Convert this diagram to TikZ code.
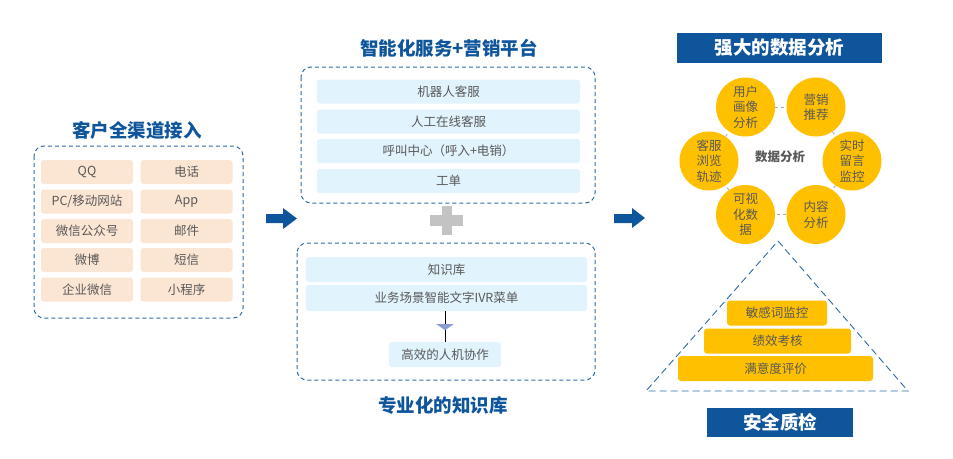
\documentclass[tikz,border=0pt]{standalone}
\usepackage{fontspec}
\setmainfont{Noto Sans CJK SC}
\usetikzlibrary{decorations.markings,arrows.meta}

\definecolor{titleblue}{HTML}{0F559C}
\definecolor{dashblue}{HTML}{2E6CA8}
\definecolor{peach}{HTML}{FBE5D3}
\definecolor{paleblue}{HTML}{E1F3FD}
\definecolor{gold}{HTML}{FFC000}
\definecolor{txtgray}{HTML}{595959}
\definecolor{plusgray}{HTML}{C3C3C3}
\definecolor{lavender}{HTML}{8C9CD2}

\begin{document}
\begin{tikzpicture}[x=1pt,y=-1pt,
    title/.style={font=\fontsize{18.5}{20}\selectfont\bfseries, text=titleblue, inner sep=0pt},
    banner/.style={fill=titleblue, text=white, inner sep=0pt, font=\fontsize{18.5}{20}\selectfont\bfseries},
    frame/.style={draw=dashblue, line width=1pt, dash pattern=on 4pt off 3pt, rounded corners=10pt},
    item/.style={rounded corners=3pt, inner sep=0pt, text=txtgray, font=\fontsize{12.5}{14}\selectfont},
    chan/.style={item, fill=peach, minimum width=92pt, minimum height=24pt},
    serv/.style={item, fill=paleblue, minimum height=24pt},
    bubble/.style={circle, fill=gold, minimum size=59pt, inner sep=0pt, align=center, text=txtgray,
      font=\fontsize{12.5}{15.5}\selectfont},
    link/.style={draw=gray!70, dashed, line width=0.8pt},
    level/.style={item, fill=gold, minimum height=25pt},
    bigarrow/.style={fill=titleblue}]

  \useasboundingbox (0,0) rectangle (953,458);
  \fill[white] (0,0) rectangle (953,458);

  % customer channels
  \node[title] (chantitle) at (137,130) {客户全渠道接入};
  \draw[frame] (34,146) rectangle (243,318);
  \node[chan] (qq)     at (87,172)   {QQ};
  \node[chan] (phone)  at (186.5,172) {电话};
  \node[chan] (web)    at (87,201.5) {PC/移动网站};
  \node[chan] (app)    at (186.5,201.5) {App};
  \node[chan] (wechat) at (87,231)   {微信公众号};
  \node[chan] (mail)   at (186.5,231) {邮件};
  \node[chan] (weibo)  at (87,260)   {微博};
  \node[chan] (sms)    at (186.5,260) {短信};
  \node[chan] (wework) at (87,289.5) {企业微信};
  \node[chan] (mini)   at (186.5,289.5) {小程序};

  \fill[bigarrow] (266,214) -- (283,214) -- (283,208) -- (297,218.5) -- (283,229) -- (283,223) -- (266,223) -- cycle;

  % service platform
  \node[title] (servtitle) at (449,48) {智能化服务+营销平台};
  \draw[frame] (301,67) rectangle (595,203);
  \node[serv, minimum width=263pt] (robot)  at (448.5,91.5) {机器人客服};
  \node[serv, minimum width=263pt] (online) at (448.5,121.5) {人工在线客服};
  \node[serv, minimum width=263pt] (call)   at (448.5,151) {呼叫中心（呼入+电销）};
  \node[serv, minimum width=263pt] (ticket) at (448.5,181) {工单};

  \fill[plusgray] (430,215) rectangle (463,226);
  \fill[plusgray] (442,206) rectangle (452,235);

  % knowledge base
  \draw[frame] (297,243) rectangle (595,380);
  \node[serv, minimum width=281pt, minimum height=25pt] (kb)    at (446.5,269.5) {知识库};
  \node[serv, minimum width=281pt, minimum height=26pt] (ivr)   at (446.5,298) {业务场景智能文字IVR菜单};
  \node[serv, minimum width=112pt, minimum height=25pt] (collab) at (445,354.5) {高效的人机协作};
  \draw[line width=0.8pt, postaction={decorate}, decoration={markings,
      mark=at position 0.62 with {\arrow{Triangle[width=17pt,length=6pt,fill=lavender,color=lavender]}}}]
    (ivr.south -| collab.north) -- (collab.north);
  \node[title] (kbtitle) at (443,405) {专业化的知识库};

  \fill[bigarrow] (614,214) -- (632,214) -- (632,208) -- (645,218) -- (632,228) -- (632,223) -- (614,223) -- cycle;

  % data analysis
  \node[banner, minimum width=205pt, minimum height=30pt] (datatitle) at (779.5,48) {强大的数据分析};
  \node[bubble] (persona)  at (745.5,107) {用户\\画像\\分析};
  \node[bubble] (promo)    at (816,107)   {营销\\推荐};
  \node[bubble] (realtime) at (852,161)   {实时\\留言\\监控};
  \node[bubble] (content)  at (816,214.5) {内容\\分析};
  \node[bubble] (visual)   at (745.5,214.5) {可视\\化数\\据};
  \node[bubble] (browse)   at (709,161)   {客服\\浏览\\轨迹};
  \node[text=txtgray, font=\fontsize{12.5}{14}\selectfont\bfseries] (datacore) at (780,157) {数据分析};
  \draw[link] (persona) -- (promo);
  \draw[link] (promo) -- (realtime);
  \draw[link] (realtime) -- (content);
  \draw[link] (content) -- (visual);
  \draw[link] (visual) -- (browse);
  \draw[link] (browse) -- (persona);

  % quality inspection
  \draw[draw=dashblue, line width=0.9pt, dash pattern=on 7pt off 4pt] (778,241) -- (908,391) -- (646,391) -- cycle;
  \node[level, minimum width=100pt] (words)   at (777,313)   {敏感词监控};
  \node[level, minimum width=147pt] (perf)    at (777.5,341) {绩效考核};
  \node[level, minimum width=195pt] (satisfy) at (775.5,368.5) {满意度评价};
  \node[banner, minimum width=146pt, minimum height=29pt] (qctitle) at (780,422.5) {安全质检};

\end{tikzpicture}
\end{document}
